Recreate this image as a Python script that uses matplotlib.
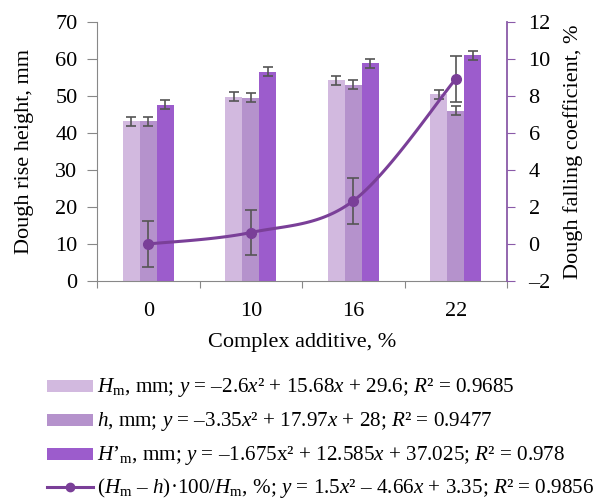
import numpy as np
import matplotlib
matplotlib.use("Agg")
import matplotlib.pyplot as plt
from matplotlib.lines import Line2D
from matplotlib.patches import Rectangle

plt.rcParams['font.family'] = ['Liberation Serif', 'DejaVu Serif']
plt.rcParams['mathtext.fontset'] = 'custom'
plt.rcParams['mathtext.rm'] = 'Liberation Serif'
plt.rcParams['mathtext.it'] = 'Liberation Serif:italic'

categories = ['0', '10', '16', '22']
Hm = [43.2, 49.8, 54.3, 50.5]
Hm_err = [1.2, 1.2, 1.2, 1.2]
h = [43.2, 49.5, 53.0, 46.0]
h_err = [1.2, 1.2, 1.2, 1.2]
Hpm = [47.7, 56.6, 58.8, 61.0]
Hpm_err = [1.2, 1.2, 1.2, 1.2]
fall = [0.0, 0.62, 2.33, 8.92]
fall_err = [1.24, 1.24, 1.24, 1.24]

legend_labels = [
    r"$H_\mathrm{m}$, mm; $y$ = –2.6$x$² + 15.68$x$ + 29.6; $R$² = 0.9685",
    r"$h$, mm; $y$ = –3.35$x$² + 17.97$x$ + 28; $R$² = 0.9477",
    r"$H$’$_\mathrm{m}$, mm; $y$ = –1.675x² + 12.585$x$ + 37.025; $R$² = 0.978",
    r"($H_\mathrm{m}$ – $h$)·100/$H_\mathrm{m}$, %; $y$ = 1.5$x$² – 4.66$x$ + 3.35; $R$² = 0.9856",
]

c1, c2, c3 = '#d2b9df', '#b592cc', '#9c5ccc'
cline = '#7a3f98'
cerr = '#555555'
cax = '#8a5aa8'
FS = 16
W, H = 603, 501

fig = plt.figure(figsize=(W/100, H/100), dpi=100)
ax = fig.add_axes([97/W, 1-281/H, 410/W, 259/H])
x = np.arange(len(categories))
w = 0.165
ek = dict(ecolor=cerr, elinewidth=1.2, capsize=3.5, capthick=1.2)
ax.bar(x - w, Hm, w, yerr=Hm_err, color=c1, error_kw=ek)
ax.bar(x, h, w, yerr=h_err, color=c2, error_kw=ek)
ax.bar(x + w, Hpm, w, yerr=Hpm_err, color=c3, error_kw=ek)
ax.set_xlim(-0.5, 3.5)
ax.set_ylim(0, 70)
ax.set_yticks(range(0, 71, 10))
ax.set_xticks(np.arange(-0.5, 4, 1))
ax.set_xticklabels([])
ax.set_xticks(x, minor=True)
ax.set_xticklabels(categories, minor=True)
ax.tick_params(axis='x', which='minor', length=0, pad=15, labelsize=FS)
ax.tick_params(axis='x', which='major', length=5, color='#888888')
ax.tick_params(axis='y', length=7, color='#888888', labelsize=FS, pad=7)
for s in ['top', 'right']:
    ax.spines[s].set_visible(False)
for s in ['left', 'bottom']:
    ax.spines[s].set_color('#888888')
ax.set_ylabel('Dough rise height, mm', fontsize=FS)
ax.yaxis.set_label_coords(-0.154, 0.5)
ax.set_xlabel('Complex additive, %', fontsize=FS)
ax.xaxis.set_label_coords(0.5, -(333 - 281) / 259)
ax.xaxis.label.set_va('top')

ax2 = ax.twinx()
ax2.set_ylim(-2, 12)
ax2.set_yticks(range(-2, 13, 2))
ax2.set_yticklabels([('–2' if v < 0 else str(v)) for v in range(-2, 13, 2)])
for s in ['top', 'left', 'bottom']:
    ax2.spines[s].set_visible(False)
ax2.spines['right'].set_color(cax)
ax2.spines['right'].set_linewidth(1.3)
ax2.tick_params(axis='y', length=6, color=cax, labelsize=FS, pad=9.5)
ax2.set_ylabel('Dough falling coefficient, %', fontsize=FS)
ax2.yaxis.set_label_coords(1.136, 0.5)

# smooth curve (Excel-style Catmull-Rom Bezier)
px = x.astype(float)
py = np.array(fall)
xs, ys = [], []
n = len(px)
for i in range(n - 1):
    p0 = np.array([px[max(i-1, 0)], py[max(i-1, 0)]])
    p1 = np.array([px[i], py[i]])
    p2 = np.array([px[i+1], py[i+1]])
    p3 = np.array([px[min(i+2, n-1)], py[min(i+2, n-1)]])
    b1 = p1 + (p2 - p0) / 6
    b2 = p2 - (p3 - p1) / 6
    t = np.linspace(0, 1, 40)[:, None]
    pts = (1-t)**3*p1 + 3*(1-t)**2*t*b1 + 3*(1-t)*t**2*b2 + t**3*p2
    xs.extend(pts[:, 0]); ys.extend(pts[:, 1])
ax2.plot(xs, ys, color=cline, lw=2.2, zorder=3)
ax2.errorbar(px, py, yerr=fall_err, fmt='o', color=cline, ms=7, ecolor=cerr,
             elinewidth=1.2, capsize=4.5, capthick=1.2, zorder=4)

# manual legend
def fx(p):
    return p / W

def fy(p):
    return 1 - p / H

row_y = [386, 420, 454, 487]
colors = [c1, c2, c3]
for i, yc in enumerate(row_y):
    if i < 3:
        fig.add_artist(Rectangle((fx(47), fy(yc + 6)), 46 / W, 12 / H,
                                 transform=fig.transFigure, color=colors[i], lw=0))
    else:
        fig.add_artist(Line2D([fx(47), fx(93)], [fy(yc), fy(yc)], transform=fig.transFigure,
                              color=cline, lw=2.2))
        fig.add_artist(Line2D([fx(70)], [fy(yc)], transform=fig.transFigure,
                              color=cline, marker='o', ms=6))
    fig.text(fx(97), fy(yc + 6), legend_labels[i], fontsize=15.2, va='baseline', ha='left')

fig.savefig('out.png', dpi=100)
